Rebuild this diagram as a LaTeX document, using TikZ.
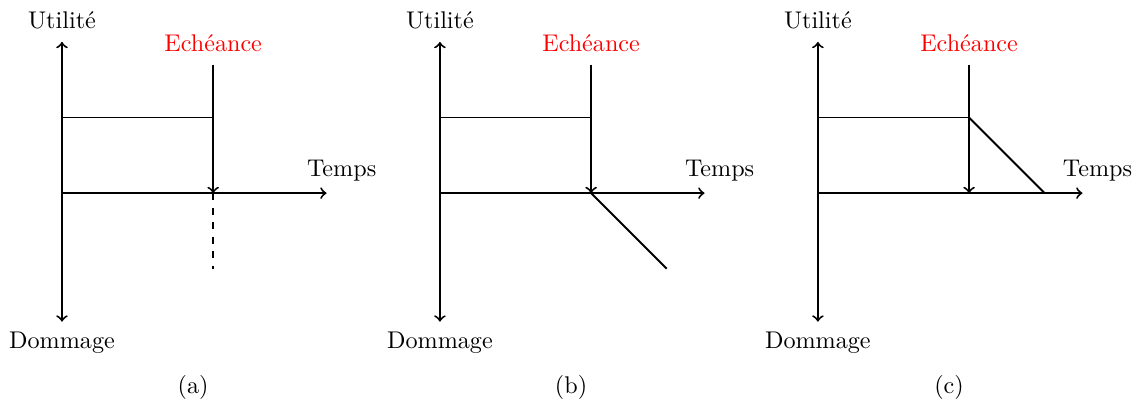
\documentclass[tikz,border=0pt]{standalone}
\begin{document}
\begin{tikzpicture}[scale=0.55, thick, >=to, every node/.style={font=\normalsize}]
                \useasboundingbox (-1.64,-5.61) rectangle (28.47,5.11);
                \foreach \idx/\tag in {0/a, 1/b, 2/c} {
                    \begin{scope}[xshift=10*\idx cm]
                        \coordinate (o-\tag) at (0,0);
                        \coordinate (top-\tag) at (0,4);
                        \coordinate (bot-\tag) at (0,-3.4);
                        \coordinate (end-\tag) at (7,0);
                        \coordinate (u-\tag) at (0,2);
                        \coordinate (e-\tag) at (4,2);
                        \coordinate (d-\tag) at (4,3.4);
                        \coordinate (h-\tag) at (4,0);
                        \node (util-\tag) at (0,4.58) {Utilit\'e};
                        \node[red] (ech-\tag) at (4,3.97) {Ech\'eance};
                        \node (temps-\tag) at (7.4,0.6) {Temps};
                        \node (dom-\tag) at (0,-3.97) {Dommage};
                        \node (cap-\tag) at (3.47,-5.13) {(\tag)};
                        % axes
                        \draw[->] (o-\tag) -- (top-\tag);
                        \draw[->] (o-\tag) -- (bot-\tag);
                        \draw[->] (o-\tag) -- (end-\tag);
                        % utility level and deadline
                        \draw (u-\tag) -- (e-\tag);
                        \draw[->] (d-\tag) -- (h-\tag);
                    \end{scope}
                }
                % after the deadline
                \coordinate (dash-a) at (4,-2);
                \draw[dashed] (h-a) -- (dash-a);
                \coordinate (drop-b) at (16,-2);
                \draw (h-b) -- (drop-b);
                \coordinate (drop-c) at (26,0);
                \draw (e-c) -- (drop-c);
            \end{tikzpicture}
\end{document}
